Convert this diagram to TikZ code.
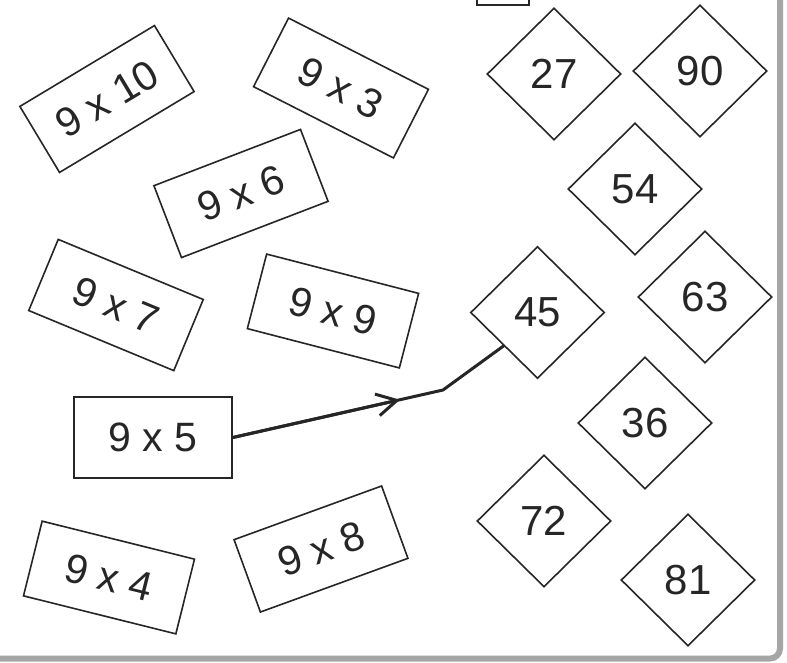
\documentclass[tikz,border=0pt]{standalone}
\usepackage{fontspec}
\setmainfont{Liberation Sans}
\usetikzlibrary{shapes.geometric,arrows.meta,calc}
\definecolor{ink}{HTML}{262626}
\definecolor{framegray}{HTML}{A6A6A6}
\begin{document}
\begin{tikzpicture}[x=1pt,y=-1pt,
  card/.style={draw=ink, line width=1.6pt, minimum width=157pt, minimum height=77pt,
    inner sep=0pt, text=ink, font=\fontsize{41}{44}\selectfont},
  gem/.style={diamond, draw=ink, line width=1.6pt, minimum width=134pt, minimum height=132pt,
    inner sep=0pt, text=ink, font=\fontsize{42}{44}\selectfont},
  conn/.style={draw=ink, line width=3pt, line join=round, line cap=round}]
\useasboundingbox (0,0) rectangle (787,662);
\fill[white] (0,0) rectangle (787,662);
\begin{scope}
  \clip (0,0) rectangle (787,662);
  \node[draw=ink, line width=1.3pt, minimum width=52pt, minimum height=40pt] (ans) at (503,-15) {};
  \draw[framegray, line width=6pt, rounded corners=10pt] (780,-20) -- (780,658.5) -- (-20,658.5);
\end{scope}
% cards
\node[card, rotate=31]    (b10) at (107,99)    {9 x 10};
\node[card, rotate=-27]   (b3)  at (341,88)    {9 x 3};
\node[card, rotate=21]    (b6)  at (241,193.5) {9 x 6};
\node[card, rotate=-22.5] (b7)  at (116,305)   {9 x 7};
\node[card, rotate=-14.5] (b9)  at (333,311)   {9 x 9};
\node[card, minimum width=158pt, minimum height=81pt] (b5) at (153,437.5) {9 x 5};
\node[card, rotate=-14]   (b4)  at (109,577.5) {9 x 4};
\node[card, rotate=20]    (b8)  at (321,549)   {9 x 8};
% diamonds
\node[gem] (d27) at (554,74)    {27};
\node[gem] (d90) at (700,71)    {90};
\node[gem] (d54) at (635,189)   {54};
\node[gem] (d63) at (705,297)   {63};
\node[gem] (d45) at (537.5,312.5) {45};
\node[gem] (d36) at (645,423)   {36};
\node[gem] (d72) at (544,521)   {72};
\node[gem] (d81) at (688,580)   {81};
% connector
\coordinate (bend) at (443,390);
\draw[conn] (b5.east) -- (bend) -- (d45.south west);
\draw[conn, -{Straight Barb[length=20pt,width=22pt]}] (b5.east) -- ($(b5.east)!0.795!(bend)$);
\end{tikzpicture}
\end{document}
